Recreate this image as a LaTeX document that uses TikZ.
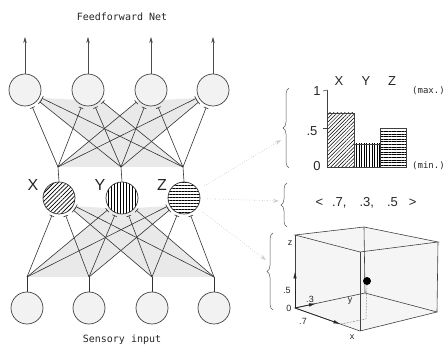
\documentclass[tikz,border=0pt]{standalone}
\usepackage{fontspec}
\setmainfont{Liberation Sans}
\newfontfamily\monof{DejaVu Sans Mono}
\usetikzlibrary{arrows.meta,patterns.meta,decorations.pathreplacing,calc}
\pgfdeclarelayer{bg}
\pgfsetlayers{bg,main}
\begin{document}
\begin{tikzpicture}[x=1pt,y=-1pt,
  neuron/.style={circle,draw=black!75,line width=0.7pt,fill=gray!10,minimum size=32pt,inner sep=0pt},
  hid/.style={circle,draw=black!80,line width=0.7pt,minimum size=32pt,inner sep=0pt,preaction={fill=white}},
  syn/.style={draw=black!80,line width=0.6pt,shorten >=2.5pt,-{Bar[width=5pt,line width=0.6pt]}},
  ax/.style={draw=black!80,line width=0.6pt},
  fan/.style={fill=gray!17},
  outarr/.style={draw=black!70,line width=0.6pt,-{Stealth[length=6pt,width=3.5pt]}},
  mono/.style={font=\monof\fontsize{10}{12}\selectfont,text=black!85},
  monos/.style={font=\monof\fontsize{9}{11}\selectfont,text=black!85},
  lab/.style={font=\fontsize{16}{18}\selectfont,text=black!85},
  clab/.style={font=\fontsize{13}{16}\selectfont,text=black!85},
  small/.style={font=\fontsize{9}{11}\selectfont,text=black!85,inner sep=0pt},
  brc/.style={draw=black!65,line width=0.5pt,decorate,decoration={brace,amplitude=6pt}},
  dots/.style={draw=gray!50,line width=0.6pt,dotted,shorten <=7pt,-{Stealth[length=6pt,width=4pt,fill=gray!25,color=gray!40]}},
  edge/.style={draw=black!75,line width=0.6pt},
  axarr/.style={draw=black!85,line width=0.7pt,-{Latex[length=7pt,width=3.5pt]}},
  hatchD/.style={pattern={Lines[angle=45,distance=3pt,line width=0.8pt]}},
  hatchV/.style={pattern={Lines[angle=90,distance=3pt,line width=0.8pt]}},
  hatchH/.style={pattern={Lines[angle=0,distance=3pt,line width=0.8pt]}},
  barD/.style={pattern={Lines[angle=45,distance=2.6pt,line width=0.5pt]}},
  barV/.style={pattern={Lines[angle=90,distance=2.6pt,line width=0.5pt]}},
  barH/.style={pattern={Lines[angle=0,distance=2.6pt,line width=0.5pt]}}
]
\useasboundingbox (0,0) rectangle (448,347);

% ---------- network nodes ----------
\node[neuron] (c1) at (25,90) {};
\node[neuron] (c2) at (88,90) {};
\node[neuron] (c3) at (151,90) {};
\node[neuron] (c4) at (213,90) {};

\node[hid,hatchD] (hx) at (59,198) {};
\node[hid,hatchV] (hy) at (122,198) {};
\node[hid,hatchH] (hz) at (184,198) {};

\node[neuron] (s1) at (27,308) {};
\node[neuron] (s2) at (89,308) {};
\node[neuron] (s3) at (152,308) {};
\node[neuron] (s4) at (214,308) {};

\coordinate (jx) at (58,167);
\coordinate (jy) at (121,167);
\coordinate (jz) at (183,167);
\coordinate (js1) at (27,277);
\coordinate (js2) at (89,277);
\coordinate (js3) at (152,277);
\coordinate (js4) at (214,277);

\coordinate (o1) at (25,37);
\coordinate (o2) at (88,37);
\coordinate (o3) at (151,37);
\coordinate (o4) at (213,37);

% ---------- shading ----------
\begin{pgfonlayer}{bg}
  \fill[fan] ($(c1)!18pt!(jy)$) -- (jy) -- (jz) -- ($(c1)!18pt!(jz)$) -- cycle;
  \fill[fan] ($(c4)!18pt!(jx)$) -- (jx) -- (jy) -- ($(c4)!18pt!(jy)$) -- cycle;
  \fill[fan] ($(c2)!18pt!(jy)$) -- (jy) -- (jz) -- ($(c2)!18pt!(jz)$) -- cycle;
  \fill[fan] ($(c3)!18pt!(jx)$) -- (jx) -- (jy) -- ($(c3)!18pt!(jy)$) -- cycle;
  \fill[fan] (jx) -- ($(c3)!18pt!(jx)$) -- ($(c4)!18pt!(jx)$) -- cycle;
  \fill[fan] (jz) -- ($(c1)!18pt!(jz)$) -- ($(c2)!18pt!(jz)$) -- cycle;
  \fill[fan] (js1) -- ($(hy)!18pt!(js1)$) -- ($(hz)!18pt!(js1)$) -- cycle;
  \fill[fan] (js4) -- ($(hx)!18pt!(js4)$) -- ($(hy)!18pt!(js4)$) -- cycle;
  \fill[fan] (js2) -- ($(hy)!18pt!(js2)$) -- ($(hz)!18pt!(js2)$) -- cycle;
  \fill[fan] (js3) -- ($(hx)!18pt!(js3)$) -- ($(hy)!18pt!(js3)$) -- cycle;
  \fill[fan] ($(hx)!18pt!(js3)$) -- (js3) -- (js4) -- ($(hx)!18pt!(js4)$) -- cycle;
  \fill[fan] ($(hz)!18pt!(js1)$) -- (js1) -- (js2) -- ($(hz)!18pt!(js2)$) -- cycle;
\end{pgfonlayer}

% ---------- connections ----------
\draw[ax] (hx.north) -- (jx);
\draw[ax] (hy.north) -- (jy);
\draw[ax] (hz.north) -- (jz);
\draw[ax] (s1.north) -- (js1);
\draw[ax] (s2.north) -- (js2);
\draw[ax] (s3.north) -- (js3);
\draw[ax] (s4.north) -- (js4);

\foreach \j in {jx,jy,jz}{
  \foreach \c in {c1,c2,c3,c4}{
    \draw[syn] (\j) -- (\c);
  }
}
\foreach \j in {js1,js2,js3,js4}{
  \foreach \h in {hx,hy,hz}{
    \draw[syn] (\j) -- (\h);
  }
}

\draw[outarr] (c1) -- (o1);
\draw[outarr] (c2) -- (o2);
\draw[outarr] (c3) -- (o3);
\draw[outarr] (c4) -- (o4);

% ---------- labels ----------
\node[mono] (title) at (122,17) {Feedforward Net};
\node[mono] (sens) at (122,340) {Sensory input};
\node[lab] (lx) at (33,185) {X};
\node[lab] (ly) at (100,185) {Y};
\node[lab] (lz) at (162,185) {Z};

% ---------- bar chart ----------
\draw[edge,line width=0.7pt] (327,90) -- (327,167) -- (407,167);
\draw[edge] (323,91) -- (327,90);
\draw[edge] (323,128.5) -- (327,128.5);
\draw[edge,barD] (327,113) rectangle (354,167);
\draw[edge,barV] (354,144) rectangle (380,167);
\draw[edge,barH] (380,128.5) rectangle (406,167);
\node[clab] (bx) at (339,81) {X};
\node[clab] (by) at (366,81) {Y};
\node[clab] (bz) at (392,81) {Z};
\node[clab] (n1) at (317,91) {1};
\node[clab] (n5) at (312,131) {.5};
\node[clab] (n0) at (317,166) {0};
\node[monos,anchor=west,inner sep=0pt] (mx) at (412,91) {(max.)};
\node[monos,anchor=west,inner sep=0pt] (mn) at (412,166) {(min.)};

% ---------- vector ----------
\node[clab] (vec) at (366,203) {<\hspace{9pt}.7,\hspace{13pt}.3,\hspace{13pt}.5\hspace{11pt}>};

% ---------- braces ----------
\draw[brc] (289,168) -- (289,88);
\draw[brc] (287,227) -- (287,183);
\draw[brc] (273,310) -- (273,233);

% ---------- dotted pointers ----------
\coordinate (t1) at (281,140);
\coordinate (t2) at (279,201);
\coordinate (t3) at (266,260);
\draw[dots] (hz) -- (t1);
\draw[dots] (hz) -- (t2);
\draw[dots] (hz) -- (t3);

% ---------- cube ----------
\coordinate (O) at (295,308);
\coordinate (A) at (360,331);
\coordinate (B) at (365,293);
\coordinate (C) at (437,312);
\coordinate (Ot) at (295,235);
\coordinate (At) at (360,252);
\coordinate (Bt) at (364,227);
\coordinate (Ct) at (438,242);
\fill[gray!8] (O) -- (A) -- (C) -- (Ct) -- (Bt) -- (Ot) -- cycle;
\draw[edge] (O) -- (A) -- (C) -- (B) -- cycle;
\draw[edge] (Ot) -- (At) -- (Ct) -- (Bt) -- cycle;
\draw[edge] (O) -- (Ot);
\draw[edge] (A) -- (At);
\draw[edge] (B) -- (Bt);
\draw[edge] (C) -- (Ct);
\coordinate (X7) at ($(O)!0.7!(A)$);
\coordinate (Y3) at ($(O)!0.3!(B)$);
\coordinate (Z5) at ($(O)!0.5!(Ot)$);
\draw[axarr] (O) -- (X7);
\draw[axarr] (O) -- (Y3);
\draw[axarr] (O) -- (Z5);
\node[circle,fill=black,minimum size=8pt,inner sep=0pt] (ball) at (367,281) {};
\coordinate (P) at (366,319);
\draw[black!70,line width=0.5pt,densely dotted] (ball) -- (P) -- (X7);
\node[small] (lz0) at (290,243) {z};
\node[small] (l5) at (287,290) {.5};
\node[small] (l0) at (289,308) {0};
\node[small] (l3) at (310,299) {.3};
\node[small] (ly0) at (350,301) {y};
\node[small] (l7) at (303,321) {.7};
\node[small] (lx0) at (352,337) {x};
\end{tikzpicture}
\end{document}
